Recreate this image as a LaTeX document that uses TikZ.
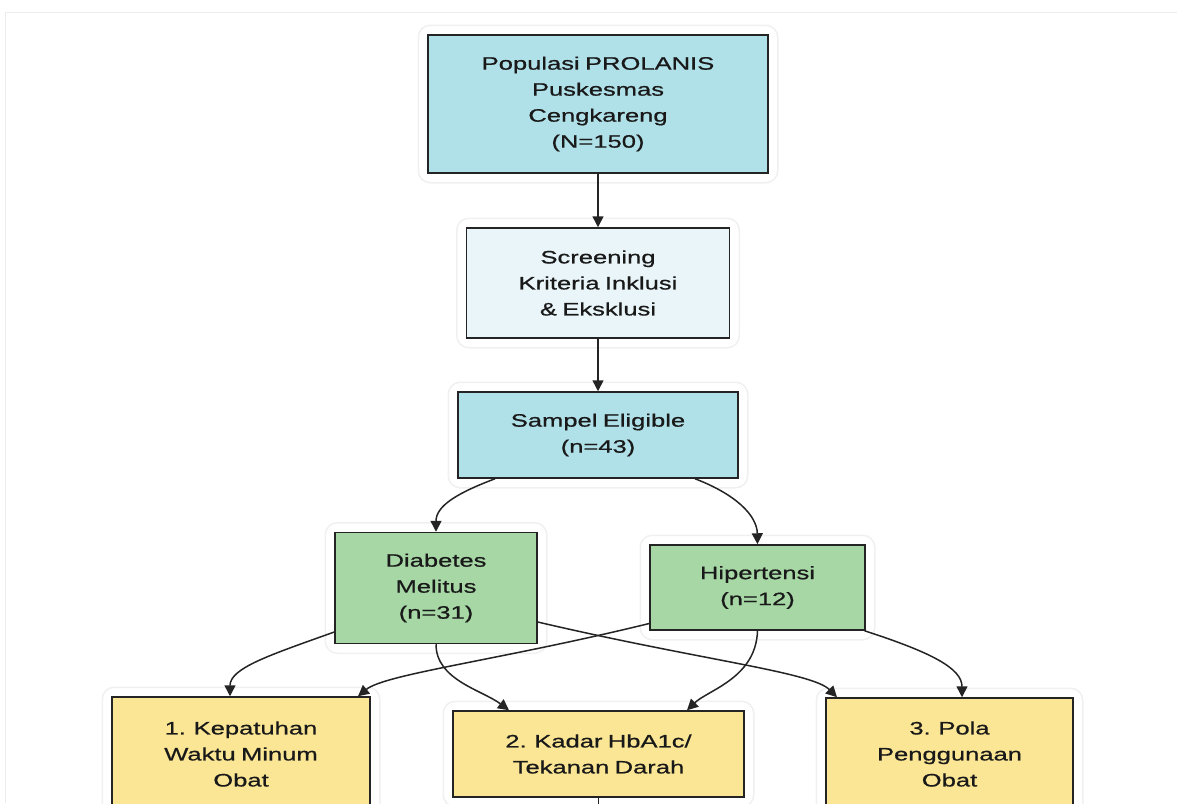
\documentclass[tikz,border=0pt]{standalone}
\usepackage{fontspec}
\setmainfont{Liberation Sans}[FakeStretch=1.42,FakeBold=0.7,WordSpace=0.75]
\usetikzlibrary{arrows.meta,backgrounds}
\definecolor{boxblue}{HTML}{B0E0E8}
\definecolor{boxpale}{HTML}{E9F5F8}
\definecolor{boxgreen}{HTML}{A6D7A5}
\definecolor{boxyellow}{HTML}{FAE694}
\definecolor{edgecol}{HTML}{242424}
\definecolor{halocol}{HTML}{F0F0F0}
\tikzset{
  box/.style={draw=edgecol, line width=1.5pt, align=center, inner sep=0pt,
    font=\fontsize{18}{26}\selectfont, text=black!90},
  conn/.style={draw=edgecol, line width=1.5pt, -{Triangle[length=11pt,width=11pt]}},
  halo/.style={draw=halocol, line width=1.5pt, rounded corners=12pt},
}
\begin{document}
\begin{tikzpicture}[x=1pt,y=-1pt]
\useasboundingbox (0,0) rectangle (1177,803);
\clip (0,0) rectangle (1177,803);
\draw[draw=black!7, line width=1pt] (1177,12) -- (5,12) -- (5,803);

\node[box, fill=boxblue, minimum width=340, minimum height=138] (A) at (598,104)
  {Populasi PROLANIS\\Puskesmas\\Cengkareng\\(N=150)};
\node[box, fill=boxpale, minimum width=263, minimum height=110] (B) at (598,283)
  {Screening\\Kriteria Inklusi\\\& Eksklusi};
\node[box, fill=boxblue, minimum width=280, minimum height=86] (C) at (598,435)
  {Sampel Eligible\\(n=43)};
\node[box, fill=boxgreen, minimum width=202, minimum height=111] (D) at (436,588)
  {Diabetes\\Melitus\\(n=31)};
\node[box, fill=boxgreen, minimum width=215, minimum height=85] (E) at (757.5,587.5)
  {Hipertensi\\(n=12)};
\node[box, fill=boxyellow, minimum width=258, minimum height=114] (O1) at (241,754)
  {1. Kepatuhan\\Waktu Minum\\Obat};
\node[box, fill=boxyellow, minimum width=291, minimum height=86] (O2) at (598.5,754)
  {2. Kadar HbA1c/\\Tekanan Darah};
\node[box, fill=boxyellow, minimum width=247, minimum height=112] (O3) at (949.5,754)
  {3. Pola\\Penggunaan\\Obat};
\coordinate (out) at (598.5,840);

\begin{scope}[on background layer]
\foreach \n in {A,B,C,D,E,O1,O2,O3}{
  \draw[halo] ([shift={(-9,-9)}]\n.north west) rectangle ([shift={(9,9)}]\n.south east);
}
\end{scope}

\draw[conn] (A) -- (B);
\draw[conn] (B) -- (C);
\draw[conn] ([xshift=-103]C.south) .. controls (460,492) and (436,505) .. (D.north);
\draw[conn] ([xshift=97]C.south) .. controls (735,494) and (757,515) .. (E.north);
\draw[conn] ([yshift=-44]D.west) .. controls (270,655) and (230,668) .. ([xshift=-11]O1.north);
\draw[conn] (D.south) .. controls (436,680) and (482,690) .. ([xshift=-89.5]O2.north);
\draw[conn] ([yshift=-34]D.east) .. controls (700,660) and (812,672) .. ([xshift=-112.5]O3.north);
\draw[conn] ([yshift=-36]E.west) .. controls (500,660) and (385,674) .. ([xshift=117]O1.north);
\draw[conn] (E.south) .. controls (756,678) and (708,690) .. ([xshift=88.5]O2.north);
\draw[conn] ([xshift=107]E.south) .. controls (930,652) and (962,668) .. ([xshift=12.5]O3.north);
\draw[conn] (O2.south) -- (out);
\end{tikzpicture}
\end{document}
